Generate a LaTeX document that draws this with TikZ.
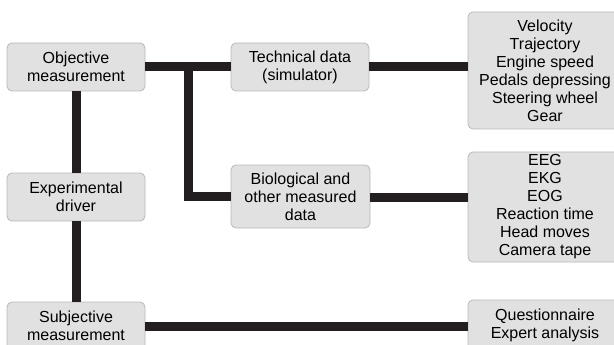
\documentclass[tikz,border=0pt]{standalone}
\usepackage{fontspec}
\setmainfont{Liberation Sans}
\usepackage{tikz}
\usetikzlibrary{positioning,calc}
\definecolor{boxFill}{HTML}{E1E1E1}
\definecolor{boxEdge}{HTML}{B9B9B9}
\definecolor{linkDark}{HTML}{231F20}

\begin{document}
\begin{tikzpicture}[x=1pt, y=-1pt,
    box/.style={draw=boxEdge, line width=0.8pt, fill=boxFill, rounded corners=5pt, align=center, inner sep=0pt, font=\fontsize{16}{18}\selectfont},
    link/.style={line width=9pt, linkDark}]
    \clip (0,0) rectangle (614,345);
    \fill[white] (0,0) rectangle (614,345);
    \node[box, minimum width=138pt, minimum height=48pt] (obj) at (76,67) {Objective\\measurement};
    \node[box, minimum width=138pt, minimum height=48pt] (exp) at (76,197) {Experimental\\driver};
    \node[box, minimum width=138pt, minimum height=48pt] (subj) at (76,326) {Subjective\\measurement};
    \node[box, minimum width=138pt, minimum height=48pt] (tech) at (300,67) {Technical data\\(simulator)};
    \node[box, minimum width=139pt, minimum height=63pt] (bio) at (300.5,196.5) {Biological and\\other measured\\data};
    \node[box, minimum width=154pt, minimum height=117pt] (vals) at (545,70.5) {Velocity\\Trajectory\\Engine speed\\Pedals depressing\\Steering wheel\\Gear};
    \node[box, minimum width=154pt, minimum height=110pt] (bios) at (545,207) {EEG\\EKG\\EOG\\Reaction time\\Head moves\\Camera tape};
    \node[box, minimum width=154pt, minimum height=50pt] (quest) at (545,325) {Questionnaire\\Expert analysis};
    \coordinate (split) at (188,67);
    % thick links between the boxes
    \draw[link] (obj.east) -- (tech.west);
    \draw[link] (split) |- (bio.west);
    \draw[link] (obj.south) -- (exp.north);
    \draw[link] (exp.south) -- (subj.north);
    \draw[link] (tech.east) -- (tech.east -| vals.west);
    \draw[link] (exp.east -| bio.east) -- (exp.east -| bios.west);
    \draw[link] (subj.east) -- (subj.east -| quest.west);
\end{tikzpicture}
\end{document}
